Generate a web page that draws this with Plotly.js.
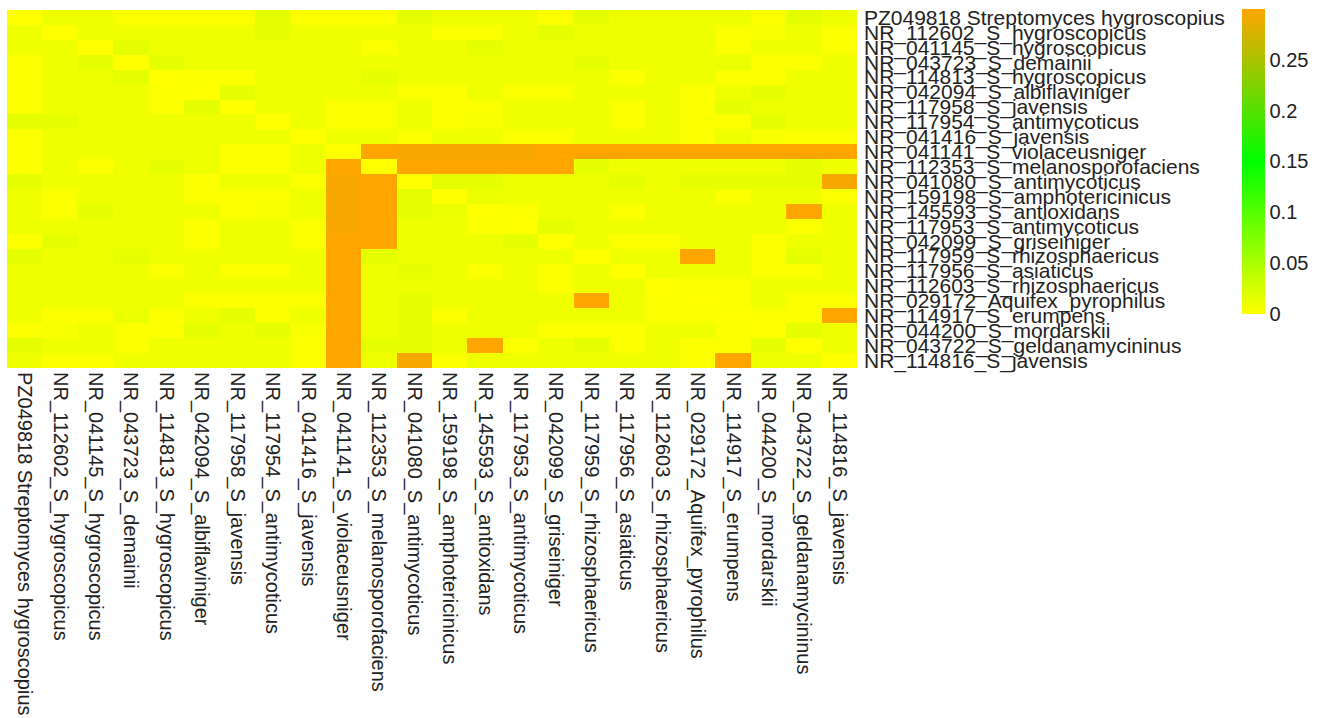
<!DOCTYPE html>
<html>
<head>
<meta charset="utf-8">
<script src="https://cdn.plot.ly/plotly-3.0.1.min.js"></script>
<style>html,body{margin:0;padding:0;background:#fff;}#chart{width:1330px;height:718px;}</style>
</head>
<body>
<div id="chart"></div>
<script>
const labels = ["PZ049818 Streptomyces hygroscopius","NR_112602_S_hygroscopicus","NR_041145_S_hygroscopicus","NR_043723_S_demainii","NR_114813_S_hygroscopicus","NR_042094_S_albiflaviniger","NR_117958_S_javensis","NR_117954_S_antimycoticus","NR_041416_S_javensis","NR_041141_S_violaceusniger","NR_112353_S_melanosporofaciens","NR_041080_S_antimycoticus","NR_159198_S_amphotericinicus","NR_145593_S_antioxidans","NR_117953_S_antimycoticus","NR_042099_S_griseiniger","NR_117959_S_rhizosphaericus","NR_117956_S_asiaticus","NR_112603_S_rhizosphaericus","NR_029172_Aquifex_pyrophilus","NR_114917_S_erumpens","NR_044200_S_mordarskii","NR_043722_S_geldanamycininus","NR_114816_S_javensis"];

const distances = [
[0,0.009,0.009,0.002,0.002,0.002,0.002,0.015,0.002,0.002,0.002,0.015,0.009,0.009,0.009,0.002,0.015,0.009,0.009,0.009,0.009,0.002,0.015,0.009],
[0.009,0,0.009,0.009,0.009,0.009,0.009,0.015,0.009,0.009,0.009,0.009,0.002,0.002,0.009,0.015,0.009,0.009,0.009,0.009,0.002,0.005,0.009,0.002],
[0.009,0.009,0,0.015,0.009,0.009,0.009,0.009,0.009,0.009,0.002,0.009,0.009,0.015,0.009,0.009,0.009,0.009,0.009,0.009,0.002,0.009,0.009,0.002],
[0.002,0.009,0.015,0,0.015,0.009,0.009,0.009,0.009,0.009,0.009,0.009,0.009,0.009,0.009,0.009,0.015,0.009,0.009,0.009,0.012,0.002,0.002,0.009],
[0.002,0.009,0.009,0.015,0,0.002,0.002,0.009,0.009,0.009,0.015,0.009,0.009,0.009,0.009,0.009,0.009,0.002,0.009,0.009,0.002,0.002,0.009,0.009],
[0.002,0.009,0.009,0.009,0.002,0,0.015,0.009,0.009,0.009,0.009,0.002,0.002,0.009,0.002,0.002,0.009,0.009,0.009,0.002,0.009,0.015,0.009,0.009],
[0.002,0.009,0.009,0.009,0.002,0.015,0,0.009,0.009,0.002,0.002,0.009,0.002,0.002,0.009,0.009,0.009,0.002,0.009,0.002,0.015,0.009,0.009,0.009],
[0.015,0.015,0.009,0.009,0.009,0.009,0.009,0,0.009,0.002,0.002,0.009,0.002,0.005,0.009,0.009,0.009,0.002,0.009,0.002,0.002,0.015,0.009,0.009],
[0.002,0.009,0.009,0.009,0.009,0.009,0.009,0.009,0,0.009,0.009,0.002,0.009,0.009,0.002,0.002,0.009,0.009,0.009,0.002,0.009,0.005,0.002,0.002],
[0.002,0.009,0.009,0.009,0.009,0.009,0.002,0.002,0.009,0,0.300,0.296,0.296,0.296,0.296,0.300,0.300,0.300,0.300,0.300,0.300,0.300,0.300,0.300],
[0.002,0.009,0.002,0.009,0.015,0.009,0.002,0.002,0.009,0.300,0,0.300,0.300,0.300,0.300,0.300,0.015,0.009,0.009,0.009,0.009,0.009,0.015,0.009],
[0.015,0.009,0.009,0.009,0.009,0.002,0.009,0.009,0.002,0.296,0.300,0,0.015,0.015,0.009,0.009,0.009,0.015,0.009,0.015,0.015,0.015,0.015,0.296],
[0.009,0.002,0.009,0.009,0.009,0.002,0.002,0.002,0.009,0.296,0.300,0.015,0,0.012,0.009,0.009,0.009,0.009,0.009,0.009,0.002,0.009,0.009,0.002],
[0.009,0.002,0.015,0.009,0.009,0.009,0.002,0.005,0.009,0.296,0.300,0.015,0.012,0,0.002,0.009,0.009,0.002,0.009,0.009,0.009,0.009,0.300,0.009],
[0.009,0.009,0.009,0.009,0.009,0.002,0.009,0.009,0.002,0.296,0.300,0.009,0.009,0.002,0,0.015,0.009,0.009,0.009,0.009,0.009,0.009,0.002,0.009],
[0.002,0.015,0.009,0.009,0.009,0.002,0.009,0.009,0.002,0.300,0.300,0.009,0.009,0.009,0.015,0,0.009,0.002,0.002,0.009,0.009,0.002,0.009,0.009],
[0.015,0.009,0.009,0.015,0.009,0.009,0.009,0.009,0.009,0.300,0.015,0.009,0.009,0.009,0.009,0.009,0,0.009,0.009,0.300,0.009,0.002,0.015,0.009],
[0.009,0.009,0.009,0.009,0.002,0.009,0.002,0.002,0.009,0.300,0.009,0.015,0.009,0.002,0.009,0.002,0.009,0,0.009,0.009,0.009,0.002,0.002,0.009],
[0.009,0.009,0.009,0.009,0.009,0.009,0.009,0.009,0.009,0.300,0.009,0.009,0.009,0.009,0.009,0.002,0.009,0.009,0,0.002,0.002,0.009,0.009,0.009],
[0.009,0.009,0.009,0.009,0.009,0.002,0.002,0.002,0.002,0.300,0.009,0.015,0.009,0.009,0.009,0.009,0.300,0.009,0.002,0,0.002,0.009,0.002,0.002],
[0.009,0.002,0.002,0.012,0.002,0.009,0.015,0.002,0.009,0.300,0.009,0.015,0.002,0.009,0.009,0.009,0.009,0.009,0.002,0.002,0,0.002,0.002,0.300],
[0.002,0.005,0.009,0.002,0.002,0.015,0.009,0.015,0.005,0.300,0.009,0.015,0.009,0.009,0.009,0.002,0.002,0.002,0.009,0.009,0.002,0,0.015,0.009],
[0.015,0.009,0.009,0.002,0.009,0.009,0.009,0.009,0.002,0.300,0.015,0.015,0.009,0.300,0.002,0.009,0.015,0.002,0.009,0.002,0.002,0.015,0,0.009],
[0.009,0.002,0.002,0.009,0.009,0.009,0.009,0.009,0.002,0.300,0.009,0.296,0.002,0.009,0.009,0.009,0.009,0.009,0.009,0.002,0.300,0.009,0.009,0]
];

const colorscale = [[0,'#FFFF00'],[0.5,'#00FF00'],[1,'#FFA500']];
const fontFamily = '"Liberation Sans", Arial, sans-serif';

const trace = {
  type: 'heatmap',
  x: labels,
  y: labels,
  z: distances,
  colorscale: colorscale,
  zmin: 0,
  showscale: true,
  xgap: 0, ygap: 0,
  colorbar: {
    x: 1.453, xanchor: 'left', xpad: 0,
    y: 1.003, yanchor: 'top', ypad: 0,
    len: 305, lenmode: 'pixels',
    thickness: 23,
    outlinewidth: 0,
    tickmode: 'linear', tick0: 0, dtick: 0.05,
    ticks: '',
    tickfont: {family: fontFamily, size: 20, color: '#222'}
  }
};

const layout = {
  width: 1330, height: 718,
  margin: {l: 7, r: 473, t: 10, b: 350, pad: 0},
  paper_bgcolor: '#fff', plot_bgcolor: '#fff',
  xaxis: {
    type: 'category', tickangle: 90, showgrid: false, zeroline: false,
    tickmode: 'array', tickvals: labels, ticktext: labels,
    ticks: '', showline: false, automargin: false, ticklabelstandoff: 3,
    tickfont: {family: fontFamily, size: 20, color: '#222'}
  },
  yaxis: {
    type: 'category', side: 'right', autorange: 'reversed',
    tickmode: 'array', tickvals: labels, ticktext: labels,
    showgrid: false, zeroline: false, ticks: '', showline: false, automargin: false,
    ticklabelstandoff: 6,
    tickfont: {family: fontFamily, size: 21, color: '#222'}
  }
};

Plotly.newPlot('chart', [trace], layout, {displayModeBar: false, staticPlot: true});
</script>
</body>
</html>
